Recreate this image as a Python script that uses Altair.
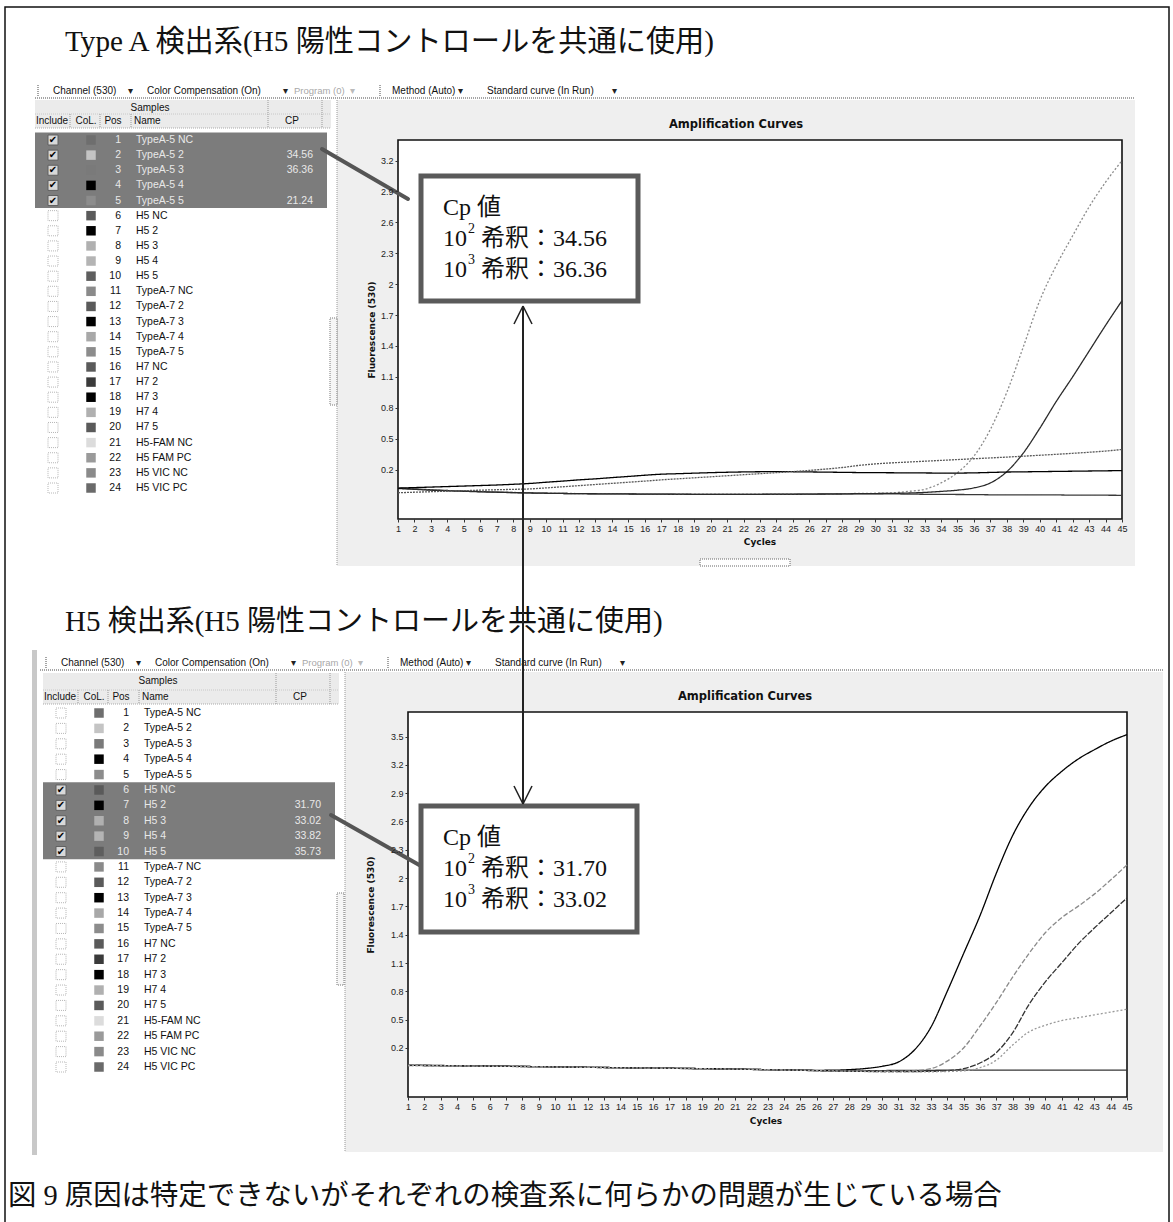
import altair as alt
import pandas as pd

W, H = 1173, 1222
SANS = "'Liberation Sans', Arial, sans-serif"
UI_BOLD = "'DejaVu Sans', Verdana, sans-serif"
JP = "'Liberation Serif', 'Noto Sans CJK JP', serif"
SYM = "'DejaVu Sans', sans-serif"

# ---------------------------------------------------------------- data
cycles = list(range(1, 46))

positions = list(range(1, 25))
sample_names = [
    "TypeA-5 NC", "TypeA-5 2", "TypeA-5 3", "TypeA-5 4", "TypeA-5 5",
    "H5 NC", "H5 2", "H5 3", "H5 4", "H5 5",
    "TypeA-7 NC", "TypeA-7 2", "TypeA-7 3", "TypeA-7 4", "TypeA-7 5",
    "H7 NC", "H7 2", "H7 3", "H7 4", "H7 5",
    "H5-FAM NC", "H5 FAM PC", "H5 VIC NC", "H5 VIC PC",
]
swatch_colours = [
    "#6e6e6e", "#c4c4c4", "#7a7a7a", "#000000", "#8c8c8c",
    "#5a5a5a", "#000000", "#b0b0b0", "#b4b4b4", "#5e5e5e",
    "#8a8a8a", "#5a5a5a", "#000000", "#a8a8a8", "#8c8c8c",
    "#5a5a5a", "#3a3a3a", "#000000", "#b0b0b0", "#5a5a5a",
    "#dcdcdc", "#9a9a9a", "#8a8a8a", "#6a6a6a",
]

# Type A run (channel 530)
typea_included = [1, 2, 3, 4, 5]
typea_cp_pos = [2, 3, 5]
typea_cp_val = [34.56, 36.36, 21.24]
typea_series = ["TypeA-5 NC", "TypeA-5 2", "TypeA-5 3", "TypeA-5 4", "TypeA-5 5"]
typea_nc = [0.020, 0.012, 0.004, -0.003, -0.009, -0.014, -0.019, -0.023, -0.027, -0.030,
            -0.032, -0.034, -0.035, -0.036, -0.037, -0.038, -0.039, -0.040, -0.040, -0.040,
            -0.040, -0.040, -0.040, -0.040, -0.040, -0.039, -0.038, -0.037, -0.035, -0.035,
            -0.036, -0.038, -0.040, -0.041, -0.042, -0.043, -0.045, -0.046, -0.046, -0.045,
            -0.046, -0.048, -0.048, -0.049, -0.050]
typea_2 = [0.018, 0.010, 0.003, -0.003, -0.008, -0.013, -0.018, -0.022, -0.026, -0.029,
           -0.031, -0.033, -0.034, -0.035, -0.036, -0.037, -0.038, -0.038, -0.039, -0.039,
           -0.039, -0.039, -0.039, -0.038, -0.038, -0.037, -0.036, -0.034, -0.032, -0.030,
           -0.026, -0.012, 0.008, 0.070, 0.170, 0.330, 0.590, 0.950, 1.390, 1.840,
           2.180, 2.470, 2.750, 2.990, 3.200]
typea_3 = [0.016, 0.008, 0.000, -0.006, -0.011, -0.016, -0.020, -0.024, -0.027, -0.030,
           -0.032, -0.034, -0.035, -0.036, -0.037, -0.038, -0.039, -0.039, -0.040, -0.040,
           -0.040, -0.040, -0.040, -0.039, -0.039, -0.038, -0.037, -0.036, -0.034, -0.033,
           -0.031, -0.028, -0.022, -0.012, 0.000, 0.022, 0.070, 0.180, 0.360, 0.600,
           0.860, 1.100, 1.350, 1.600, 1.840]
typea_4 = [0.020, 0.025, 0.030, 0.035, 0.040, 0.045, 0.050, 0.057, 0.065, 0.077,
           0.088, 0.100, 0.110, 0.122, 0.133, 0.145, 0.155, 0.160, 0.165, 0.170,
           0.174, 0.177, 0.179, 0.180, 0.179, 0.177, 0.175, 0.173, 0.171, 0.170,
           0.169, 0.168, 0.167, 0.166, 0.166, 0.168, 0.172, 0.176, 0.178, 0.180,
           0.182, 0.184, 0.186, 0.188, 0.190]
typea_5 = [-0.025, -0.020, -0.015, -0.010, -0.005, 0.000, 0.004, 0.008, 0.012, 0.022,
           0.033, 0.044, 0.055, 0.066, 0.077, 0.088, 0.100, 0.110, 0.120, 0.130,
           0.140, 0.150, 0.160, 0.170, 0.180, 0.192, 0.205, 0.220, 0.240, 0.255,
           0.265, 0.273, 0.281, 0.289, 0.297, 0.305, 0.313, 0.321, 0.330, 0.339,
           0.348, 0.358, 0.368, 0.380, 0.395]

# H5 run (channel 530)
h5_included = [6, 7, 8, 9, 10]
h5_cp_pos = [7, 8, 9, 10]
h5_cp_val = [31.70, 33.02, 33.82, 35.73]
h5_series = ["H5 NC", "H5 2", "H5 3", "H5 4", "H5 5"]
h5_nc = [0.015, 0.014, 0.013, 0.012, 0.010, 0.008, 0.006, 0.004, 0.002, 0.000,
         -0.003, -0.005, -0.007, -0.009, -0.011, -0.013, -0.015, -0.017, -0.019, -0.021,
         -0.024, -0.027, -0.030, -0.033, -0.036, -0.040, -0.043, -0.044, -0.042, -0.040,
         -0.038, -0.037, -0.037, -0.036, -0.036, -0.036, -0.036, -0.036, -0.036, -0.036,
         -0.036, -0.036, -0.036, -0.036, -0.036]
h5_2 = [0.016, 0.015, 0.014, 0.012, 0.010, 0.008, 0.006, 0.004, 0.002, 0.000,
        -0.003, -0.005, -0.007, -0.009, -0.011, -0.013, -0.015, -0.017, -0.019, -0.021,
        -0.024, -0.027, -0.030, -0.033, -0.035, -0.037, -0.036, -0.030, -0.018, 0.005,
        0.050, 0.180, 0.420, 0.800, 1.200, 1.600, 2.050, 2.450, 2.750, 2.970,
        3.130, 3.260, 3.360, 3.450, 3.520]
h5_3 = [0.014, 0.013, 0.012, 0.011, 0.009, 0.007, 0.005, 0.003, 0.001, -0.001,
        -0.004, -0.006, -0.008, -0.010, -0.012, -0.014, -0.016, -0.018, -0.020, -0.022,
        -0.025, -0.028, -0.031, -0.034, -0.037, -0.041, -0.044, -0.046, -0.047, -0.047,
        -0.046, -0.040, -0.020, 0.060, 0.200, 0.430, 0.680, 0.950, 1.200, 1.420,
        1.580, 1.700, 1.830, 1.980, 2.140]
h5_4 = [0.015, 0.014, 0.012, 0.011, 0.009, 0.007, 0.005, 0.003, 0.001, -0.001,
        -0.004, -0.006, -0.008, -0.010, -0.012, -0.014, -0.016, -0.018, -0.020, -0.022,
        -0.025, -0.028, -0.031, -0.034, -0.037, -0.041, -0.044, -0.047, -0.049, -0.050,
        -0.050, -0.050, -0.048, -0.040, -0.020, 0.040, 0.150, 0.360, 0.660, 0.900,
        1.100, 1.300, 1.470, 1.630, 1.790]
h5_5 = [0.014, 0.013, 0.012, 0.010, 0.008, 0.006, 0.004, 0.002, 0.000, -0.002,
        -0.004, -0.006, -0.008, -0.010, -0.012, -0.014, -0.016, -0.018, -0.020, -0.022,
        -0.025, -0.028, -0.031, -0.034, -0.037, -0.041, -0.044, -0.047, -0.050, -0.052,
        -0.053, -0.054, -0.053, -0.050, -0.042, -0.010, 0.070, 0.230, 0.370, 0.440,
        0.490, 0.520, 0.550, 0.580, 0.610]

typea_ticks = [0.2, 0.5, 0.8, 1.1, 1.4, 1.7, 2.0, 2.3, 2.6, 2.9, 3.2]
h5_ticks = [0.2, 0.5, 0.8, 1.1, 1.4, 1.7, 2.0, 2.3, 2.6, 2.9, 3.2, 3.5]

title_top = "Type A 検出系(H5 陽性コントロールを共通に使用)"
title_bottom = "H5 検出系(H5 陽性コントロールを共通に使用)"
caption = "図 9 原因は特定できないがそれぞれの検査系に何らかの問題が生じている場合"

for _s in (typea_nc, typea_2, typea_3, typea_4, typea_5, h5_nc, h5_2, h5_3, h5_4, h5_5):
    assert len(_s) == len(cycles)

# ---------------------------------------------------------------- helpers
ONE = pd.DataFrame({"k": [0]})


def text_at(s, x, y, size=10, font=SANS, color="#111111", weight="normal",
            align="left", baseline="middle", angle=0):
    kw = dict(text=s, fontSize=size, font=font, color=color, fontWeight=weight,
              align=align, baseline=baseline)
    if angle:
        kw["angle"] = angle
    return alt.Chart(ONE).mark_text(**kw).encode(x=alt.value(x), y=alt.value(y))


def rect_at(x, y, x2, y2, fill="transparent", stroke=None, width=1.0, dash=None):
    kw = dict(fill=fill)
    if stroke:
        kw.update(stroke=stroke, strokeWidth=width)
    if dash:
        kw["strokeDash"] = dash
    return alt.Chart(ONE).mark_rect(**kw).encode(
        x=alt.value(x), x2=alt.value(x2), y=alt.value(y), y2=alt.value(y2))


def seg(x, y, x2, y2, color="#000000", width=1.0, dash=None, cap="butt"):
    kw = dict(color=color, strokeWidth=width, strokeCap=cap)
    if dash:
        kw["strokeDash"] = dash
    return alt.Chart(ONE).mark_rule(**kw).encode(
        x=alt.value(x), y=alt.value(y), x2=alt.value(x2), y2=alt.value(y2))


def toolbar(dx, y):
    items = [("Channel (530)", 53, "#111", 10), ("▾", 128, "#222", 10),
             ("Color Compensation (On)", 147, "#111", 10), ("▾", 283, "#222", 10),
             ("Program (0)", 294, "#a8a8a8", 9.5), ("▾", 350, "#bbbbbb", 10),
             ("Method (Auto)", 392, "#111", 10), ("▾", 458, "#222", 10),
             ("Standard curve (In Run)", 487, "#111", 10), ("▾", 612, "#222", 10)]
    out = []
    for s, x, c, fs in items:
        f = SYM if s == "▾" else SANS
        out.append(text_at(s, x + dx, y, size=fs, font=f, color=c))
    out.append(seg(38 + dx, y - 6, 38 + dx, y + 6, "#888", 1.5, [1, 1]))
    out.append(seg(380 + dx, y - 6, 380 + dx, y + 6, "#888", 1.5, [1, 1]))
    return out


def sample_table(dx, row_top, row_bottom, samples_y, cols_y, checked, cp_pos, cp_val):
    cpmap = dict(zip(cp_pos, cp_val))
    df = pd.DataFrame({"pos": positions, "name": sample_names, "shade": swatch_colours})
    df["on"] = df["pos"].isin(checked)
    df["cp"] = [f"{cpmap[p]:.2f}" if p in cpmap else "" for p in positions]
    ys = alt.Scale(domain=[1, 24], range=[row_top, row_bottom], nice=False, zero=False)
    Y = alt.Y("pos:Q", scale=ys, axis=None)
    base = alt.Chart(df)
    band = alt.Chart(pd.DataFrame({"lo": [min(checked) - 0.5], "hi": [max(checked) + 0.5]})).mark_rect(
        color="#7c7c7c").encode(x=alt.value(35 + dx), x2=alt.value(327 + dx),
                                y=alt.Y("lo:Q", scale=ys, axis=None), y2="hi:Q")
    txtcol = alt.condition("datum.on", alt.value("#e8e8e8"), alt.value("#111111"))
    box_off = base.transform_filter("!datum.on").mark_square(
        size=100, fill="white", stroke="#9a9a9a", strokeWidth=1, strokeDash=[1, 1]).encode(
        x=alt.value(53 + dx), y=Y)
    box_on = base.transform_filter("datum.on").mark_square(
        size=100, fill="white", stroke="#555", strokeWidth=1).encode(x=alt.value(53 + dx), y=Y)
    tick = base.transform_filter("datum.on").mark_text(
        text="✔", font=SYM, fontSize=10, color="#000").encode(x=alt.value(53 + dx), y=Y)
    swatch = base.mark_square(size=90, opacity=1).encode(
        x=alt.value(91 + dx), y=Y, color=alt.Color("shade:N", scale=None, legend=None))
    pos_t = base.mark_text(align="right", fontSize=10.5, font=SANS).encode(
        x=alt.value(121 + dx), y=Y, text="pos:Q", color=txtcol)
    name_t = base.mark_text(align="left", fontSize=10.5, font=SANS).encode(
        x=alt.value(136 + dx), y=Y, text="name:N", color=txtcol)
    cp_t = base.mark_text(align="right", fontSize=10.5, font=SANS).encode(
        x=alt.value(313 + dx), y=Y, text="cp:N", color=txtcol)
    rows = alt.layer(band, box_off, box_on, tick, swatch, pos_t, name_t, cp_t)

    top, bot = samples_y - 8, cols_y + 7
    head = [rect_at(35 + dx, top, 331 + dx, bot, fill="#ebebeb"),
            text_at("Samples", 150 + dx, samples_y, size=10, align="center"),
            text_at("Include", 52 + dx, cols_y, size=10, align="center"),
            text_at("CoL.", 86 + dx, cols_y, size=10, align="center"),
            text_at("Pos", 113 + dx, cols_y, size=10, align="center"),
            text_at("Name", 134 + dx, cols_y, size=10),
            text_at("CP", 292 + dx, cols_y, size=10, align="center"),
            seg(35 + dx, bot, 331 + dx, bot, "#aaa", 1, [1, 1]),
            seg(35 + dx, cols_y - 7, 331 + dx, cols_y - 7, "#c8c8c8", 1, [1, 1])]
    for sx in (70, 100, 131):
        head.append(seg(sx + dx, cols_y - 7, sx + dx, bot, "#999", 1, [1, 1]))
    for sx in (268, 322):
        head.append(seg(sx + dx, top, sx + dx, bot, "#999", 1, [1, 1]))
    return head + [rows]


def curve_panel(names, series, colours, dashes, x0, x1, y_top, y_bot, y_dom, y_ticks):
    rows = []
    for n, vals in zip(names, series):
        for c, v in zip(cycles, vals):
            rows.append({"sample": n, "cycle": c, "fluor": v})
    df = pd.DataFrame(rows)
    xs = alt.Scale(domain=[1, 45], range=[x0, x1], nice=False, zero=False)
    ys = alt.Scale(domain=y_dom, range=[y_bot, y_top], nice=False, zero=False)
    frame = rect_at(x0, y_top, x1, y_bot, fill="white", stroke="#111111", width=1.6)
    lines = alt.Chart(df).mark_line(strokeWidth=1.3, interpolate="monotone").encode(
        x=alt.X("cycle:Q", scale=xs,
                axis=alt.Axis(orient="bottom", offset=y_bot - H, values=cycles, format="d",
                              title=None, domain=False, grid=False, tickSize=3,
                              tickColor="#333", labelFontSize=9, labelFont=SANS,
                              labelColor="#222", labelPadding=2, labelOverlap=False,
                              labelFlush=False, labelBound=False, zindex=1)),
        y=alt.Y("fluor:Q", scale=ys,
                axis=alt.Axis(orient="left", offset=-x0, values=y_ticks, format=".1~f",
                              title=None, domain=False, grid=False, tickSize=3,
                              tickColor="#333", labelFontSize=9, labelFont=SANS,
                              labelColor="#222", labelPadding=2, labelOverlap=False,
                              labelFlush=False, labelBound=False, zindex=1)),
        color=alt.Color("sample:N", scale=alt.Scale(domain=names, range=colours), legend=None),
        strokeDash=alt.StrokeDash("sample:N", scale=alt.Scale(domain=names, range=dashes),
                                  legend=None),
        order="cycle:Q",
    )
    return alt.layer(frame, lines)


def callout(x0, y0, x1, y1, cp_values, line_y):
    out = [rect_at(x0, y0, x1, y1, fill="white", stroke="#5a5a5a", width=5)]
    tx = x0 + 22
    out.append(text_at("Cp 値", tx, line_y[0], size=24, font=JP))
    for i, (sup, v) in enumerate(zip(["2", "3"], cp_values)):
        yy = line_y[i + 1]
        out.append(text_at("10", tx, yy, size=24, font=JP))
        out.append(text_at(sup, tx + 25, yy - 10, size=14, font=JP))
        out.append(text_at(f"希釈：{v:.2f}", tx + 38, yy, size=24, font=JP))
    return out


def arrow_v(x, y_top, y_bot):
    return [seg(x, y_top, x, y_bot, "#222", 2),
            seg(x, y_top, x - 9, y_top + 18, "#222", 1.6),
            seg(x, y_top, x + 9, y_top + 18, "#222", 1.6),
            seg(x, y_bot, x - 9, y_bot - 18, "#222", 1.6),
            seg(x, y_bot, x + 9, y_bot - 18, "#222", 1.6)]


# ---------------------------------------------------------------- layout
layers = []

# ---- Type A run
layers += toolbar(0, 91)
layers.append(seg(35, 98, 1135, 98, "#888", 1.5, [1, 1]))
layers.append(rect_at(337, 100, 1135, 566, fill="#efefef"))
layers.append(seg(337, 100, 337, 566, "#999", 1, [1, 1]))
layers += sample_table(0, 140, 488, 108, 121, typea_included, typea_cp_pos, typea_cp_val)
layers.append(rect_at(330, 318, 337, 405, fill="#f6f6f6", stroke="#777", width=1, dash=[1, 1]))
layers.append(text_at("Amplification Curves", 736, 125, size=11.5, font=UI_BOLD,
                      weight="bold", align="center"))
layers.append(curve_panel(typea_series, [typea_nc, typea_2, typea_3, typea_4, typea_5],
                          ["#3a3a3a", "#8c8c8c", "#2a2a2a", "#000000", "#5a5a5a"],
                          [[1, 0], [2, 2], [1, 0], [1, 0], [2, 1]],
                          398, 1122, 140, 519, [-0.28, 3.40], typea_ticks))
layers.append(text_at("Fluorescence (530)", 372, 330, size=9, font=UI_BOLD, weight="bold",
                      align="center", angle=270))
layers.append(text_at("Cycles", 760, 542, size=9, font=UI_BOLD, weight="bold", align="center"))
layers.append(rect_at(700, 559, 790, 566, fill="white", stroke="#666", width=1, dash=[1, 1]))

# ---- H5 run
layers.append(rect_at(32, 650, 37, 1155, fill="#c8c8c8"))
layers += toolbar(8, 663)
layers.append(seg(40, 670, 1163, 670, "#888", 1.5, [1, 1]))
layers.append(rect_at(345, 672, 1163, 1152, fill="#efefef"))
layers.append(seg(345, 672, 345, 1152, "#999", 1, [1, 1]))
layers += sample_table(8, 713, 1067, 681, 697, h5_included, h5_cp_pos, h5_cp_val)
layers.append(rect_at(337, 893, 344, 985, fill="#f6f6f6", stroke="#777", width=1, dash=[1, 1]))
layers.append(text_at("Amplification Curves", 745, 697, size=11.5, font=UI_BOLD,
                      weight="bold", align="center"))
layers.append(curve_panel(h5_series, [h5_nc, h5_2, h5_3, h5_4, h5_5],
                          ["#333333", "#000000", "#8a8a8a", "#333333", "#9a9a9a"],
                          [[1, 0], [1, 0], [5, 2], [6, 1.5], [2, 2]],
                          408, 1127, 712, 1097, [-0.32, 3.76], h5_ticks))
layers.append(text_at("Fluorescence (530)", 371, 905, size=9, font=UI_BOLD, weight="bold",
                      align="center", angle=270))
layers.append(text_at("Cycles", 766, 1121, size=9, font=UI_BOLD, weight="bold", align="center"))

# ---- Cp call-outs linked to the sample rows
layers.append(seg(322, 149, 408, 199, "#555", 4, cap="round"))
layers += callout(421, 176, 638, 301, typea_cp_val[:2], [208, 239, 270])
layers.append(seg(331, 815, 421, 866, "#555", 4, cap="round"))
layers += callout(421, 806, 637, 932, h5_cp_val[:2], [838, 869, 900])

# ---- headings, frame, comparison arrow
layers.append(text_at(title_top, 65, 42, size=29.2, font=JP))
layers.append(text_at(title_bottom, 65, 622, size=29, font=JP))
layers.append(text_at(caption, 8, 1196, size=28.4, font=JP))
layers.append(rect_at(5, 7, 1169, 1260, stroke="#111111", width=1.5))
layers += arrow_v(523, 306, 804)

chart = (
    alt.layer(*layers)
    .resolve_scale(x="independent", y="independent", color="independent",
                   strokeDash="independent")
    .properties(width=W, height=H, padding=0,
                autosize=alt.AutoSizeParams(type="none"))
    .configure(background="white")
    .configure_view(stroke=None)
)

chart.save("out.html", embed_options={"renderer": "svg", "actions": False})
